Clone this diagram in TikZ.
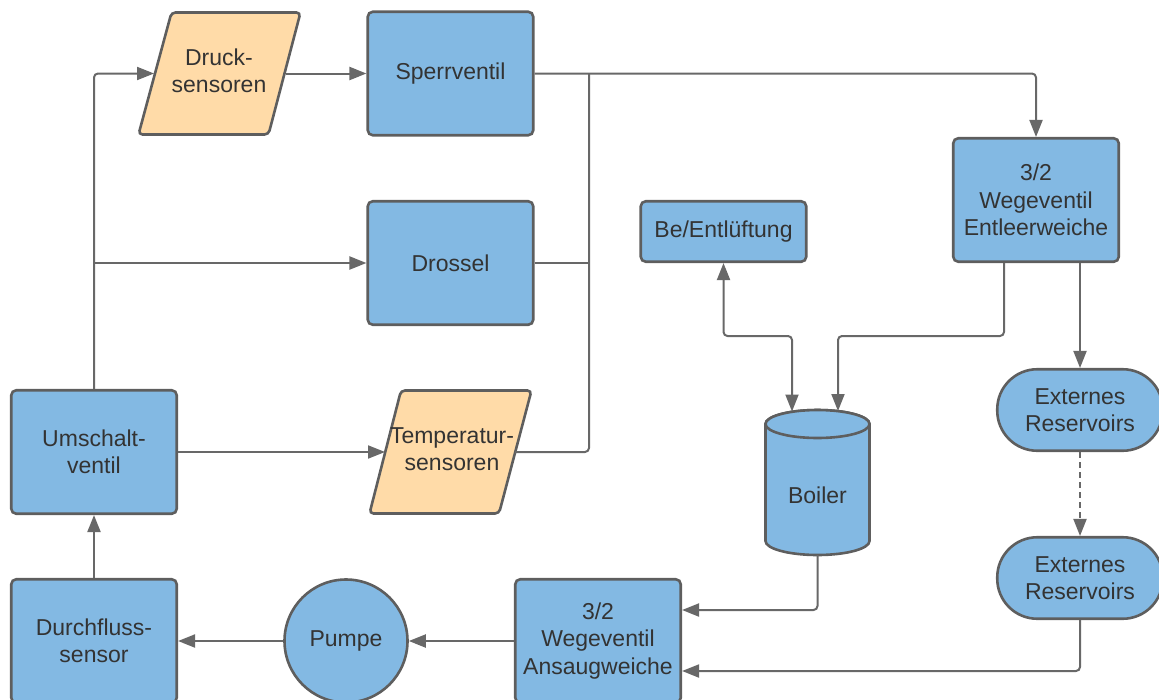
\documentclass[tikz,border=0pt]{standalone}
\usepackage{fontspec}
\setmainfont{Liberation Sans}
\usetikzlibrary{arrows.meta,calc}
\definecolor{boxblue}{HTML}{83B9E3}
\definecolor{sensorfill}{HTML}{FFDBA8}
\definecolor{border}{HTML}{5E5E5E}
\definecolor{wire}{HTML}{686868}
\definecolor{ink}{HTML}{333333}
\tikzset{
  label font/.style={text=ink, align=center, font=\fontsize{23}{27.5}\selectfont},
  outline/.style={draw=border, line width=2.6pt},
  valve/.style={label font, outline, fill=boxblue, rounded corners=5pt,
    minimum width=165.5pt, minimum height=123.5pt, inner sep=0pt},
  smallbox/.style={valve, minimum height=60.5pt},
  pumpnode/.style={label font, outline, fill=boxblue, circle, minimum size=123pt, inner sep=0pt},
  reservoir/.style={label font, outline, fill=boxblue, rounded corners=40pt,
    minimum width=165.5pt, minimum height=81.5pt, inner sep=0pt},
  sensorshape/.style={outline, fill=sensorfill, rounded corners=4pt},
  textonly/.style={label font, inner sep=0pt},
  conn/.style={draw=wire, line width=2pt, rounded corners=4pt},
  arr/.style={-{Triangle[length=17pt,width=13pt]}},
  biarr/.style={{Triangle[length=17pt,width=13pt]}-{Triangle[length=17pt,width=13pt]}},
}
\begin{document}
\begin{tikzpicture}[x=1pt,y=-1pt]
\useasboundingbox (0,0) rectangle (1159,699);

% sensors (parallelograms)
\draw[sensorshape] (138.5,134.5) -- (268.5,134.5) -- (300.5,12.5) -- (171.5,12.5) -- cycle;
\node[textonly] (druck) at (219,71) {Druck-\\sensoren};
\coordinate (druck-w) at (154,73.5);
\coordinate (druck-e) at (285.5,73.5);

\draw[sensorshape] (369.5,513.5) -- (499,513.5) -- (531.5,390.5) -- (401,390.5) -- cycle;
\node[textonly] (temp) at (452,449) {Temperatur-\\sensoren};
\coordinate (temp-w) at (385,452);
\coordinate (temp-e) at (515,452);

% valves and boxes
\node[valve] (sperr) at (450.5,73.5) {Sperrventil};
\node[valve] (drossel) at (450.5,263) {Drossel};
\node[valve] (umschalt) at (94,452) {Umschalt-\\ventil};
\node[valve] (durch) at (94,641) {Durchfluss-\\sensor};
\node[pumpnode] (pumpe) at (346,641) {Pumpe};
\node[valve] (ansaug) at (598,641) {3/2\\Wegeventil\\Ansaugweiche};
\node[smallbox] (bel) at (723.5,231.5) {Be/Entlüftung};
\node[valve] (entleer) at (1036,200) {3/2\\Wegeventil\\Entleerweiche};
\node[reservoir] (ext1) at (1080,410) {Externes\\Reservoirs};
\node[reservoir] (ext2) at (1080,578) {Externes\\Reservoirs};

% boiler (cylinder)
\filldraw[outline, fill=boxblue] (765.5,424) -- (765.5,541)
  arc[start angle=180, end angle=360, x radius=52pt, y radius=14pt]
  -- (869.5,424)
  arc[start angle=0, end angle=180, x radius=52pt, y radius=14pt] -- cycle;
\filldraw[outline, fill=boxblue] (817.5,424) ellipse[x radius=52pt, y radius=14pt];
\node[textonly] (boiler) at (817.5,495) {Boiler};
\coordinate (boiler-in1) at (792,411.5);
\coordinate (boiler-in2) at (838,411);
\coordinate (boiler-out) at (817.5,555);

% connectors
\draw[conn,arr] (umschalt.north) -- (94,73.5) -- (druck-w);
\draw[conn,arr] (94,263) -- (drossel.west);
\draw[conn,arr] (umschalt.east) -- (temp-w);
\draw[conn,arr] (druck-e) -- (sperr.west);
\draw[conn,arr] (sperr.east) -- (1036,73.5) -- (entleer.north);
\draw[conn] (drossel.east) -- (589,263);
\draw[conn] (589,73.5) -- (589,452) -- (temp-e);
\draw[conn,arr] ([xshift=-32pt]entleer.south) |- (838,336) -- (boiler-in2);
\draw[conn,biarr] (bel.south) |- (792,336) -- (boiler-in1);
\draw[conn,arr] (ext1.north |- entleer.south) -- (ext1.north);
\draw[conn,arr,dashed,dash pattern=on 6pt off 4pt] (ext1.south) -- (ext2.north);
\draw[conn,arr] (ext2.south) -- (1080,671) -- ($(ansaug.east)+(0,30)$);
\draw[conn,arr] (boiler-out) -- (817.5,610) -- ($(ansaug.east)+(0,-31)$);
\draw[conn,arr] (ansaug.west) -- (pumpe.east);
\draw[conn,arr] (pumpe.west) -- (durch.east);
\draw[conn,arr] (durch.north) -- (umschalt.south);
\end{tikzpicture}
\end{document}
